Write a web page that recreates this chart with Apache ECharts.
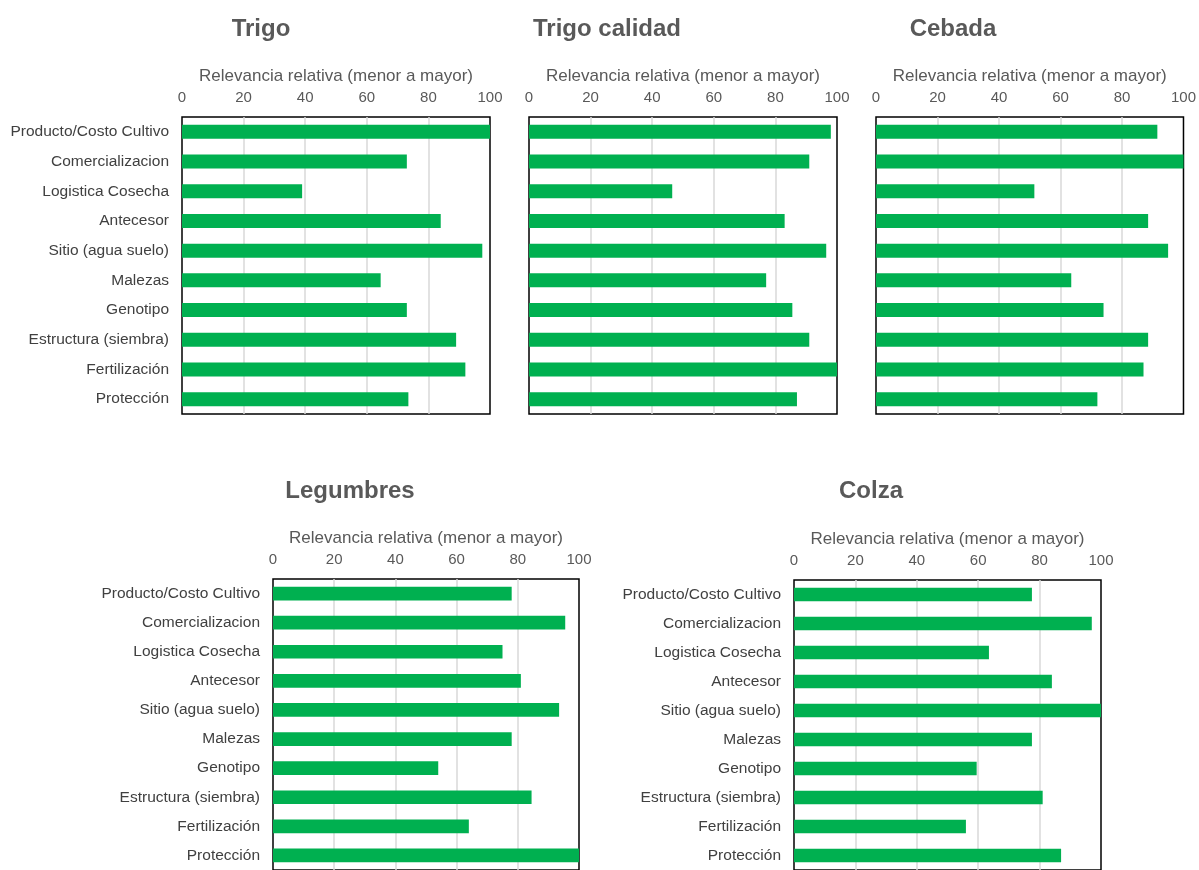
<!DOCTYPE html>
<html>
<head>
<meta charset="utf-8">
<script src="https://cdn.jsdelivr.net/npm/echarts@6/dist/echarts.min.js"></script>
<style>
  html, body { margin: 0; padding: 0; background: #fff; }
  #chart { width: 1199px; height: 870px; }
</style>
</head>
<body>
<div id="chart"></div>
<script>
// Factors, listed from top to bottom in every panel
const factores = [
  'Producto/Costo Cultivo', 'Comercializacion', 'Logistica Cosecha', 'Antecesor',
  'Sitio (agua suelo)', 'Malezas', 'Genotipo', 'Estructura (siembra)',
  'Fertilización', 'Protección'
];
const ticks = [0, 20, 40, 60, 80, 100];
const ejeNombre = 'Relevancia relativa (menor a mayor)';

// Relative relevance per crop
const trigo        = [100, 73, 39, 84, 97.5, 64.5, 73, 89, 92, 73.5];
const trigoCalidad = [98, 91, 46.5, 83, 96.5, 77, 85.5, 91, 100, 87];
const cebada       = [91.5, 100, 51.5, 88.5, 95, 63.5, 74, 88.5, 87, 72];
const legumbres    = [78, 95.5, 75, 81, 93.5, 78, 54, 84.5, 64, 100];
const colza        = [77.5, 97, 63.5, 84, 100, 77.5, 59.5, 81, 56, 87];

// Panel placement; the middle and right panels of the top row share the left panel's factor labels
const paneles = [
  { titulo: 'Trigo',         datos: trigo,        left: 182, top: 117, width: 308, tx: 261, ty: 17,  etiquetas: true },
  { titulo: 'Trigo calidad', datos: trigoCalidad, left: 529, top: 117, width: 308, tx: 607, ty: 17,  etiquetas: false },
  { titulo: 'Cebada',        datos: cebada,       left: 876, top: 117, width: 308, tx: 953, ty: 17,  etiquetas: false },
  { titulo: 'Legumbres',     datos: legumbres,    left: 273, top: 579, width: 306, tx: 350, ty: 479, etiquetas: true },
  { titulo: 'Colza',         datos: colza,        left: 794, top: 580, width: 307, tx: 871, ty: 479, etiquetas: true }
];

const FONT = '"Liberation Sans", Arial, sans-serif';
const GRIS = '#595959';

const option = {
  backgroundColor: '#ffffff',
  animation: false,
  title: paneles.map(p => ({
    text: p.titulo,
    left: p.tx, top: p.ty, padding: 0,
    textAlign: 'center',
    textStyle: { fontFamily: FONT, fontSize: 24, fontWeight: 'bold', color: GRIS }
  })),
  grid: paneles.map(p => ({
    left: p.left, top: p.top, width: p.width, height: 297,
    show: true, borderColor: '#000', borderWidth: 1.5,
    backgroundColor: 'transparent', containLabel: false
  })),
  xAxis: paneles.map((p, i) => ({
    type: 'value', gridIndex: i, position: 'top',
    min: ticks[0], max: ticks[ticks.length - 1], interval: ticks[1] - ticks[0],
    name: ejeNombre, nameLocation: 'middle', nameGap: 32,
    nameTextStyle: { fontFamily: FONT, fontSize: 17, color: GRIS },
    axisLine: { show: false }, axisTick: { show: false },
    axisLabel: { fontFamily: FONT, fontSize: 15, color: GRIS, margin: 12 },
    splitLine: { show: true, showMinLine: false, showMaxLine: false,
                 lineStyle: { color: '#d9d9d9', width: 1.5 } }
  })),
  yAxis: paneles.map((p, i) => ({
    type: 'category', gridIndex: i, inverse: true, data: factores,
    axisLine: { show: false }, axisTick: { show: false },
    axisLabel: { show: p.etiquetas, fontFamily: FONT, fontSize: 15.5, color: '#404040', margin: 13 },
    splitLine: { show: false }
  })),
  series: paneles.map((p, i) => ({
    type: 'bar', xAxisIndex: i, yAxisIndex: i,
    data: p.datos, barWidth: '47%',
    itemStyle: { color: '#00b050' },
    silent: true
  }))
};

const chart = echarts.init(document.getElementById('chart'), null, { renderer: 'canvas' });
chart.setOption(option);
</script>
</body>
</html>
